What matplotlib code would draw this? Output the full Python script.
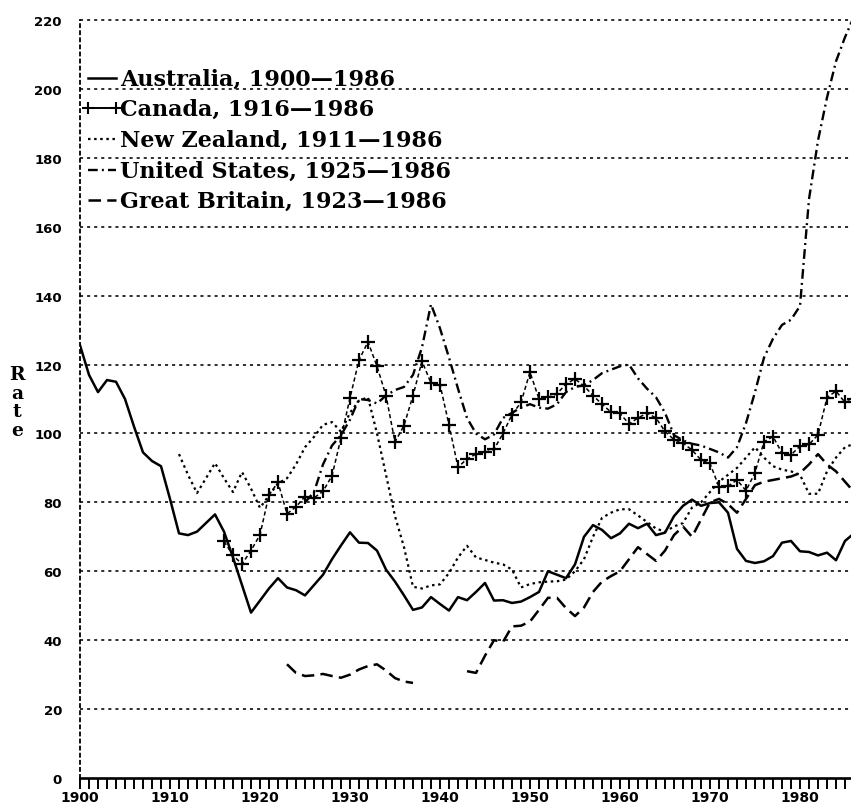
import numpy as np
import matplotlib
matplotlib.use("Agg")
import matplotlib.pyplot as plt
from matplotlib.lines import Line2D

nan = np.nan

# ---------------- data ----------------
aus_years = list(range(1900, 1987))
aus = [125.6, 117, 112, 115.5, 115, 110, 102, 94.5, 92, 90.5,
       81, 71, 70.5, 71.5, 74, 76.5, 71.5, 64, 56, 48,
       51.5, 55, 58, 55.3, 54.5, 53, 56, 59, 63.5, 67.5,
       71.3, 68.3, 68.2, 66, 60.5, 57, 53, 48.8, 49.5, 52.5,
       50.5, 48.6, 52.5, 51.6, 54, 56.6, 51.5, 51.6, 50.8, 51.2,
       52.5, 54, 60, 59, 58, 62, 70, 73.4, 72, 69.6,
       71, 73.8, 72.5, 73.8, 70.5, 71.2, 76, 79, 80.8, 79,
       79.8, 80, 77, 66.5, 63, 62.4, 62.9, 64.4, 68.3, 68.8,
       65.8, 65.6, 64.6, 65.4, 63.2, 68.8, 71]

can_years = list(range(1916, 1987))
can = [68.7, 64.6, 62.1, 66, 70.6, 82.2, 85.8, 76.7, 78.7, 81.7,
       81.3, 83.2, 87.7, 98.7, 110.3, 121.3, 126.6, 119.5, 111, 97.5,
       102.3, 111, 121, 114.6, 114.2, 102.5, 90.2, 92.6, 94, 94.5,
       95.4, 100, 105.5, 109, 117.8, 110, 110.5, 111.5, 114.4, 115.8,
       113.8, 111, 108.5, 106.2, 105.8, 102.8, 104.5, 105.9, 104.5, 100.6,
       98.2, 97.2, 95.2, 92.3, 91.3, 84.5, 84.7, 86.5, 83.4, 88.6,
       97.6, 99.1, 94.3, 93.8, 96.3, 96.8, 99.6, 110.4, 112.3, 109, 110]

nz_years = list(range(1911, 1987))
nz = [94, 88, 82.7, 87, 91.4, 87, 83, 88.8, 84, 78.4,
      82, 85.5, 87, 91, 96, 99, 102.5, 103.3, 100.5, 106,
      109.5, 110.5, 100, 88, 76, 67, 55.5, 55, 55.9, 56.2,
      59.5, 64, 67.4, 64, 63.3, 62.5, 62, 60.5, 55.3, 56.3,
      56.8, 57, 57.1, 57.6, 60, 63.5, 70, 75.5, 77, 78,
      78, 76.2, 74.3, 72.4, 71.5, 73, 74, 78.5, 80, 83,
      86, 88, 90, 93, 96, 93, 90.5, 89.5, 89, 88,
      82.5, 82.5, 89, 93, 96, 97]

us_years = list(range(1925, 1987))
us = [80, 83, 91, 96.5, 99.5, 104, 110, 109.7, 108.7, 111,
      112.6, 113.5, 117, 125, 137.5, 130.5, 122, 113, 104.5, 100,
      98.3, 99.7, 104.5, 106, 107.5, 108.5, 107.5, 107.2, 108.5, 112,
      113.5, 114, 115.5, 117.5, 118.5, 119.5, 120, 116, 113, 110.5,
      106, 99.5, 98, 97, 96.5, 95.5, 94.5, 93, 96, 103,
      112, 122, 127.5, 131.5, 133, 137, 168, 185, 197.5, 208,
      215, 221]

gb_years = list(range(1923, 1987))
gb = [33, 30.5, 29.6, 29.8, 30.2, 29.6, 29.1, 30, 31.5, 32.5,
      33, 31.2, 29, 28, 27.6, nan, nan, nan, nan, nan,
      31, 30.5, 35.5, 40, 39.5, 44, 44.2, 45.4, 48.8, 52.3,
      52.3, 49.3, 47, 49.5, 54, 57, 58.6, 60, 63.5, 67,
      65, 63, 66, 70.5, 73, 70, 75, 80, 81, 79.5,
      77, 81, 85, 86, 86.5, 87, 87.5, 88.5, 91, 94,
      91, 89, 86, 83]

legend_labels = ["Australia, 1900\u20141986", "Canada, 1916\u20141986",
                 "New Zealand, 1911\u20141986", "United States, 1925\u20141986",
                 "Great Britain, 1923\u20141986"]
y_ticks = list(range(0, 221, 20))
x_major = list(range(1900, 1981, 10))
x_minor = list(range(1900, 1987))

# ---------------- styling ----------------
plt.rcParams["lines.scale_dashes"] = False
W, H = 851, 804
fig = plt.figure(figsize=(W / 100, H / 100), dpi=100)
fig.patch.set_facecolor("white")

def fx(x):
    return x / W

def fy(y):
    return 1 - y / H

x0, x1 = 80, 854
y0, y1 = 779, 21
ax = fig.add_axes([fx(x0), fy(y0), (x1 - x0) / W, (y0 - y1) / H])
ax.set_xlim(1900, 1986)
ax.set_ylim(0, 220)

GRID = (0, (2.2, 2.9))
for v in y_ticks[1:]:
    ax.axhline(v, color="black", lw=1.15, linestyle=GRID, clip_on=False, zorder=1)

for s in ["top", "right"]:
    ax.spines[s].set_visible(False)
ax.spines["left"].set_linestyle(GRID)
ax.spines["left"].set_linewidth(1.3)
ax.spines["bottom"].set_linewidth(1.9)

styles = {
    "aus": dict(color="black", lw=1.8, linestyle="-"),
    "can": dict(color="black", lw=1.1, linestyle=(0, (3, 2)), marker="+",
                markersize=10, markeredgewidth=1.6),
    "nz": dict(color="black", lw=1.6, linestyle=(0, (1.8, 2.6))),
    "us": dict(color="black", lw=1.7, linestyle=(0, (7, 3, 1.4, 3))),
    "gb": dict(color="black", lw=1.8, linestyle=(0, (9, 4.5))),
}

ax.plot(aus_years, aus, **styles["aus"], zorder=3)
ax.plot(can_years, can, **styles["can"], zorder=3)
ax.plot(nz_years, nz, **styles["nz"], zorder=3)
ax.plot(us_years, us, **styles["us"], zorder=3)
ax.plot(gb_years, gb, **styles["gb"], zorder=3)

ax.set_xticks(x_major)
ax.set_xticks(x_minor, minor=True)
ax.set_xticklabels([str(v) for v in x_major], fontsize=10, fontweight="bold")
ax.tick_params(axis="x", which="both", direction="out", length=8, width=1.4, pad=1)
ax.set_yticks(y_ticks)
ax.set_yticklabels([str(v) for v in y_ticks], fontsize=9.5, fontweight="bold")
ax.tick_params(axis="y", length=0, pad=13)

fig.text(fx(17), fy(403), "R\na\nt\ne", ha="center", va="center",
         family="DejaVu Serif", fontweight="bold", fontsize=13.5, linespacing=1.05)

# ---------------- legend (drawn by hand, like the original) ----------------
leg_y = [79, 109, 140, 171, 201]
keys = ["aus", "can", "nz", "us", "gb"]
for key, lab, yy in zip(keys, legend_labels, leg_y):
    st = dict(styles[key])
    if key == "can":
        ln = Line2D([fx(88), fx(116)], [fy(yy), fy(yy)], transform=fig.transFigure,
                    color="black", lw=1.4, marker="+", markersize=8, markeredgewidth=1.5)
    else:
        ln = Line2D([fx(88), fx(116)], [fy(yy), fy(yy)], transform=fig.transFigure, **st)
    fig.add_artist(ln)
    fig.text(fx(120), fy(yy + 1), lab, ha="left", va="center", family="DejaVu Serif",
             fontweight="bold", fontsize=16)

fig.savefig("out.png", dpi=100, facecolor="white")
